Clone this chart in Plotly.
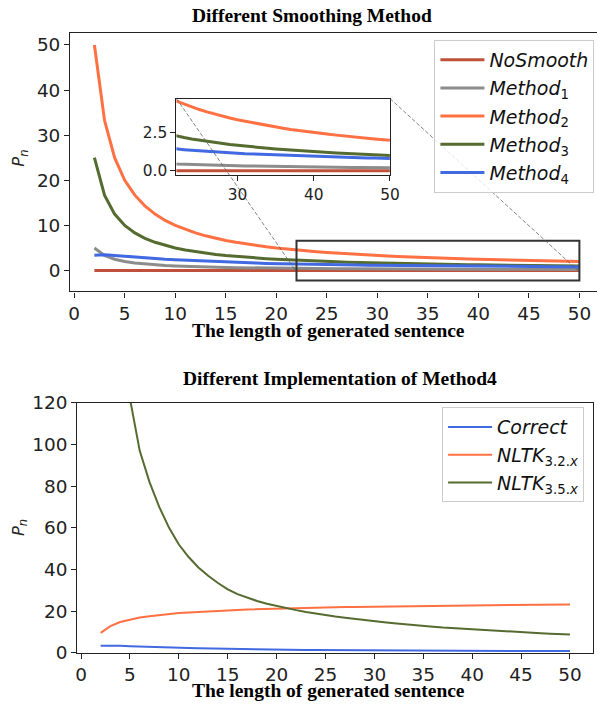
import plotly.graph_objects as go

# ---------------- data ----------------
lengths = [2, 3, 4, 5, 6, 7, 8, 9, 10, 11, 12, 13, 14, 15, 16, 17, 18, 19, 20,
           21, 22, 23, 24, 25, 26, 27, 28, 29, 30, 31, 32, 33, 34, 35, 36, 37, 38,
           39, 40, 41, 42, 43, 44, 45, 46, 47, 48, 49, 50]

no_smooth = [0.0, 0.0, 0.0, 0.0, 0.0, 0.0, 0.0, 0.0, 0.0, 0.0, 0.0, 0.0, 0.0,
             0.0, 0.0, 0.0, 0.0, 0.0, 0.0, 0.0, 0.0, 0.0, 0.0, 0.0, 0.0, 0.0,
             0.0, 0.0, 0.0, 0.0, 0.0, 0.0, 0.0, 0.0, 0.0, 0.0, 0.0, 0.0, 0.0,
             0.0, 0.0, 0.0, 0.0, 0.0, 0.0, 0.0, 0.0, 0.0, 0.0]
method1 = [5.0, 3.33, 2.5, 2.0, 1.67, 1.43, 1.25, 1.11, 1.0, 0.91, 0.83, 0.77,
           0.71, 0.67, 0.63, 0.59, 0.56, 0.53, 0.5, 0.48, 0.45, 0.43, 0.42, 0.4,
           0.38, 0.37, 0.36, 0.34, 0.33, 0.32, 0.31, 0.3, 0.29, 0.29, 0.28, 0.27,
           0.26, 0.26, 0.25, 0.24, 0.24, 0.23, 0.23, 0.22, 0.22, 0.21, 0.21, 0.2, 0.2]
method2 = [50.0, 33.3, 25.0, 20.0, 16.7, 14.3, 12.5, 11.1, 10.0, 9.09, 8.33, 7.69,
           7.14, 6.67, 6.25, 5.88, 5.56, 5.26, 5.0, 4.76, 4.55, 4.35, 4.17, 4.0,
           3.85, 3.7, 3.57, 3.45, 3.33, 3.23, 3.13, 3.03, 2.94, 2.86, 2.78, 2.7,
           2.63, 2.56, 2.5, 2.44, 2.38, 2.33, 2.27, 2.22, 2.17, 2.13, 2.08, 2.04, 2.0]
method3 = [25.0, 16.7, 12.5, 10.0, 8.33, 7.14, 6.25, 5.56, 5.0, 4.55, 4.17, 3.85,
           3.57, 3.33, 3.13, 2.94, 2.78, 2.63, 2.5, 2.38, 2.27, 2.17, 2.08, 2.0,
           1.92, 1.85, 1.79, 1.72, 1.67, 1.61, 1.56, 1.52, 1.47, 1.43, 1.39, 1.35,
           1.32, 1.28, 1.25, 1.22, 1.19, 1.16, 1.14, 1.11, 1.09, 1.06, 1.04, 1.02, 1.0]
method4 = [3.4, 3.5, 3.35, 3.15, 2.95, 2.78, 2.62, 2.48, 2.36, 2.25, 2.15, 2.05,
           1.96, 1.87, 1.78, 1.71, 1.64, 1.58, 1.52, 1.47, 1.43, 1.38, 1.34, 1.3,
           1.27, 1.23, 1.2, 1.17, 1.15, 1.12, 1.1, 1.07, 1.05, 1.03, 1.01, 0.99,
           0.97, 0.95, 0.94, 0.92, 0.91, 0.89, 0.88, 0.86, 0.85, 0.84, 0.83, 0.81, 0.8]

correct = [3.4, 3.5, 3.35, 3.15, 2.95, 2.78, 2.62, 2.48, 2.36, 2.25, 2.15, 2.05,
           1.96, 1.87, 1.78, 1.71, 1.64, 1.58, 1.52, 1.47, 1.43, 1.38, 1.34, 1.3,
           1.27, 1.23, 1.2, 1.17, 1.15, 1.12, 1.1, 1.07, 1.05, 1.03, 1.01, 0.99,
           0.97, 0.95, 0.94, 0.92, 0.91, 0.89, 0.88, 0.86, 0.85, 0.84, 0.83, 0.81, 0.8]
nltk_32 = [9.6, 12.8, 14.8, 16.0, 16.9, 17.6, 18.2, 18.7, 19.1, 19.4, 19.7, 20.0,
           20.2, 20.4, 20.6, 20.8, 20.95, 21.1, 21.25, 21.4, 21.5, 21.6, 21.7, 21.8,
           21.9, 22.0, 22.05, 22.1, 22.2, 22.25, 22.3, 22.35, 22.4, 22.5, 22.55, 22.6,
           22.65, 22.7, 22.75, 22.8, 22.85, 22.9, 22.95, 23.0, 23.05, 23.1, 23.15, 23.2, 23.25]
nltk_35 = [300.0, 200.0, 150.0, 122.0, 97.0, 82.0, 70.0, 60.0, 52.0, 46.0, 41.0, 37.0,
           33.5, 30.5, 28.2, 26.4, 24.9, 23.6, 22.5, 21.5, 20.5, 19.6, 18.8, 18.0,
           17.4, 16.8, 16.2, 15.7, 15.2, 14.7, 14.2, 13.7, 13.2, 12.8, 12.5, 12.1,
           11.8, 11.5, 11.2, 10.9, 10.6, 10.3, 10.0, 9.8, 9.6, 9.4, 9.2, 9.0, 8.8]

top_names = ["<i>NoSmooth</i>", "<i>Method</i><sub>1</sub>", "<i>Method</i><sub>2</sub>",
             "<i>Method</i><sub>3</sub>", "<i>Method</i><sub>4</sub>"]
bottom_names = ["<i>Correct</i>", "<i>NLTK</i><sub>3.2.<i>x</i></sub>",
                "<i>NLTK</i><sub>3.5.<i>x</i></sub>"]
top_ticks = [0, 5, 10, 15, 20, 25, 30, 35, 40, 45, 50]
top_yticks = [0, 10, 20, 30, 40, 50]
bottom_yticks = [0, 20, 40, 60, 80, 100, 120]
inset_xticks = [30, 40, 50]
inset_yticks = [0.0, 2.5]

# ---------------- layout helpers ----------------
# The page is photographed slightly reduced and shifted; compensate so that
# target pixel positions (of the 597x705 picture) are hit.
ZX, ZY = 0.978, 0.9725
OX, OY = 1.0, 9.0
W, H = 610, 716
S = (ZX + ZY) / 2


def fig_x(t):
    return (t - OX) / ZX


def fig_y(t):
    return (t - OY) / ZY


def px_x(t):
    return min(1.0, max(0.0, fig_x(t) / W))


def px_y(t):
    return min(1.0, max(0.0, 1 - fig_y(t) / H))


def fs(v):
    return round(v / S, 2)


c_red = "#C0503A"
c_gray = "#8C8C8C"
c_orange = "#FF7043"
c_olive = "#556B2F"
c_blue = "#4169E1"
top_colors = [c_red, c_gray, c_orange, c_olive, c_blue]
bottom_colors = [c_blue, c_orange, c_olive]
top_series = [no_smooth, method1, method2, method3, method4]
bottom_series = [correct, nltk_32, nltk_35]

tick_font = dict(family="DejaVu Sans", size=fs(18), color="#222222")
inset_font = dict(family="DejaVu Sans", size=fs(15), color="#222222")
title_font = dict(family="Liberation Serif", size=fs(19), color="#000000")
legend_font = dict(family="DejaVu Sans", size=fs(18.5), color="#111111")

# top panel: pixel targets 69..(right edge), 31..290; x 0->73, 50->577; y 0->269, 50->43
top_left_px, top_top_px, top_bot_px = 69, 31, 290
top_x_scale = (577 - 73) / 50.0           # px per unit in picture
top_y_scale = (269 - 43) / 50.0
top_xdom = [px_x(top_left_px), 1.0]
top_ydom = [px_y(top_bot_px), px_y(top_top_px)]
x_right_fig = W
top_xrange = [-0.4, -0.4 + (x_right_fig - fig_x(top_left_px)) * ZX / top_x_scale]
top_yrange = [0 - (top_bot_px - 269) / top_y_scale, 50 + (43 - top_top_px) / top_y_scale]

inset_xrange = [22, 50]
inset_yrange = [-0.3, 4.72]
zoom_box_y = [-2.2, 6.6]
inset_xdom = [px_x(175), px_x(388)]
inset_ydom = [px_y(173.7), px_y(96.7)]

bot_xdom = [px_x(76), px_x(591)]
bot_ydom = [px_y(652), px_y(401.7)]

fig = go.Figure()

for name, ys, col in zip(top_names, top_series, top_colors):
    fig.add_trace(go.Scatter(x=lengths, y=ys, mode="lines", name=name,
                             line=dict(color=col, width=3), xaxis="x", yaxis="y",
                             legend="legend", legendgroup=name))
for name, ys, col in zip(top_names, top_series, top_colors):
    fig.add_trace(go.Scatter(x=lengths, y=ys, mode="lines", name=name,
                             line=dict(color=col, width=3), xaxis="x3", yaxis="y3",
                             showlegend=False))
for name, ys, col in zip(bottom_names, bottom_series, bottom_colors):
    fig.add_trace(go.Scatter(x=lengths, y=ys, mode="lines", name=name,
                             line=dict(color=col, width=2), xaxis="x2", yaxis="y2",
                             legend="legend2", legendgroup=name))

axis_common = dict(showgrid=False, zeroline=False, showline=True, linecolor="#222222",
                   linewidth=1.2, ticks="outside", ticklen=5, tickwidth=1.1,
                   tickcolor="#222222")

fig.update_layout(
    width=W, height=H,
    margin=dict(l=0, r=0, t=0, b=0),
    paper_bgcolor="white", plot_bgcolor="white",
    xaxis=dict(domain=top_xdom, range=top_xrange, anchor="y", tickvals=top_ticks,
               mirror=True, tickfont=tick_font, **axis_common),
    yaxis=dict(domain=top_ydom, range=top_yrange, anchor="x", tickvals=top_yticks,
               mirror=False, tickfont=tick_font, **axis_common),
    xaxis3=dict(domain=inset_xdom, range=inset_xrange, anchor="y3", tickvals=inset_xticks,
                mirror=True, tickfont=inset_font, **axis_common),
    yaxis3=dict(domain=inset_ydom, range=inset_yrange, anchor="x3", tickvals=inset_yticks,
                tickformat=".1f", mirror=True, tickfont=inset_font, **axis_common),
    xaxis2=dict(domain=bot_xdom, range=[-0.4, 52.4], anchor="y2", tickvals=top_ticks,
                mirror=True, tickfont=tick_font, **axis_common),
    yaxis2=dict(domain=bot_ydom, range=[0, 120], anchor="x2", tickvals=bottom_yticks,
                mirror=True, tickfont=tick_font, **axis_common),
    legend=dict(x=px_x(592), xanchor="right", y=px_y(38), yanchor="top",
                bgcolor="rgba(255,255,255,0.8)", bordercolor="#cccccc", borderwidth=1,
                font=legend_font, itemwidth=44, tracegroupgap=0.5),
    legend2=dict(x=px_x(581.7), xanchor="right", y=px_y(406), yanchor="top",
                 bgcolor="rgba(255,255,255,0.8)", bordercolor="#cccccc", borderwidth=1,
                 font=legend_font, itemwidth=44, tracegroupgap=0),
    showlegend=True,
)


def pic_to_top(tx, ty):
    # picture pixel -> top-panel data coordinates
    return ((tx - 73) / top_x_scale, (269 - ty) / top_y_scale)


fig.add_shape(type="rect", xref="x", yref="y", x0=inset_xrange[0], x1=inset_xrange[1],
              y0=zoom_box_y[0], y1=zoom_box_y[1], line=dict(color="#333333", width=2),
              layer="above")
tl = pic_to_top(175, 96.7)
tr = pic_to_top(388, 96.7)
conn = dict(color="rgba(90,90,90,0.75)", width=1, dash="4px,2px")
fig.add_shape(type="line", xref="x", yref="y", x0=tl[0], y0=tl[1],
              x1=inset_xrange[0], y1=inset_yrange[0], line=conn, layer="above")
fig.add_shape(type="line", xref="x", yref="y", x0=tr[0], y0=tr[1],
              x1=inset_xrange[1], y1=inset_yrange[0], line=conn, layer="above")


def ann(text, x, y, font, angle=0):
    fig.add_annotation(text=text, xref="paper", yref="paper", x=px_x(x), y=px_y(y),
                       xanchor="center", yanchor="middle", showarrow=False,
                       font=font, textangle=angle)


ann("<b>Different Smoothing Method</b>", 310, 14, title_font)
ann("<b>Different Implementation of Method4</b>", 338, 377, title_font)
ann("<b>The length of generated sentence</b>", 327, 329, title_font)
ann("<b>The length of generated sentence</b>", 327, 690, title_font)
pn_font = dict(family="DejaVu Sans", size=fs(16), color="#222222")
ann("<i>P</i><sub><i>n</i></sub>", 19, 157, pn_font, -90)
ann("<i>P</i><sub><i>n</i></sub>", 18, 527, pn_font, -90)

fix_js = ("document.body.style.margin='0';document.body.style.overflow='hidden';")
fig.write_html("out.html", config={"displayModeBar": False}, post_script=fix_js)
